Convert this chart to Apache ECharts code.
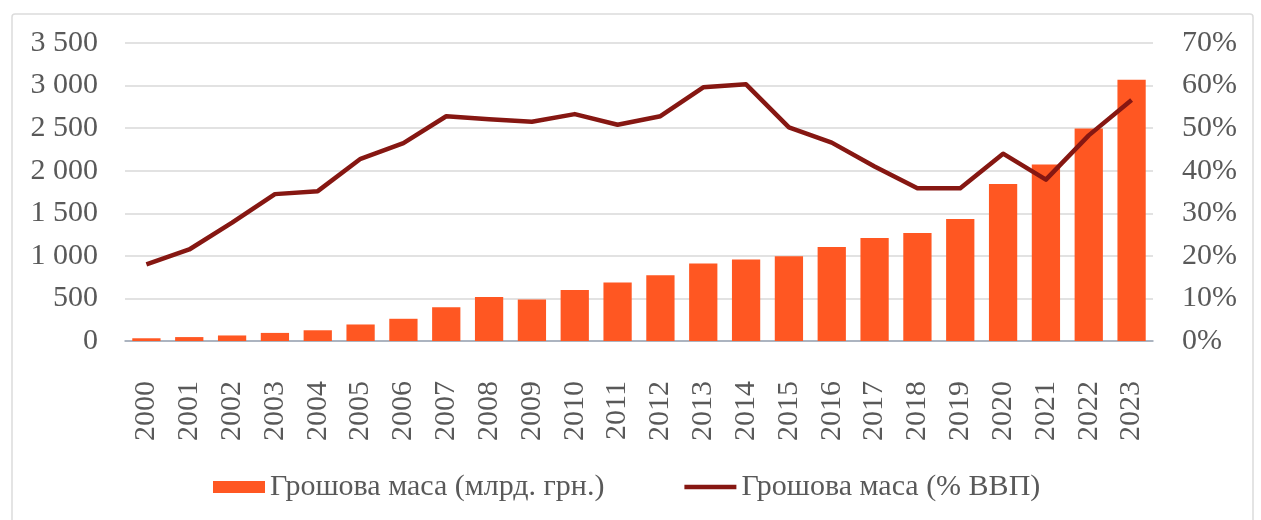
<!DOCTYPE html>
<html>
<head>
<meta charset="utf-8">
<script src="https://cdn.jsdelivr.net/npm/echarts@6/dist/echarts.min.js"></script>
<style>
  html, body { margin: 0; padding: 0; background: #ffffff; }
  #chart { width: 1261px; height: 520px; }
</style>
</head>
<body>
<div id="chart"></div>
<script>
// Money supply of Ukraine, 2000–2023
const years = ['2000','2001','2002','2003','2004','2005','2006','2007','2008','2009','2010','2011',
               '2012','2013','2014','2015','2016','2017','2018','2019','2020','2021','2022','2023'];
// Money supply, bn UAH
const moneyBn = [32, 46, 65, 95, 126, 194, 261, 396, 516, 487, 598, 686,
                 773, 909, 957, 994, 1103, 1209, 1269, 1434, 1845, 2072, 2496, 3068];
// Money supply, % of GDP
const moneyGdp = [18.0, 21.5, 27.8, 34.5, 35.2, 42.8, 46.5, 52.8, 52.1, 51.5, 53.3, 50.8,
                  52.8, 59.6, 60.3, 50.2, 46.6, 41.0, 35.9, 35.9, 44.0, 37.9, 48.3, 56.6];
const seriesNames = ['Грошова маса (млрд. грн.)', 'Грошова маса (% ВВП)'];

const FONT = '"Liberation Serif", "Times New Roman", serif';
const TEXT = '#595959';
const BAR_COLOR = '#FF5722';
const LINE_COLOR = '#861712';

const chart = echarts.init(document.getElementById('chart'), null, { renderer: 'canvas' });

function spaced(v) {
  return String(v).replace(/\B(?=(\d{3})+(?!\d))/g, ' ');
}

chart.setOption({
  animation: false,
  backgroundColor: '#ffffff',
  textStyle: { fontFamily: FONT },
  graphic: [{
    type: 'rect',
    shape: { x: 12, y: 14, width: 1241, height: 530, r: 3 },
    style: { fill: 'none', stroke: '#dcdcdc', lineWidth: 1.5 },
    z: -10
  }],
  grid: { left: 125, right: 108, top: 43, bottom: 179 },
  legend: {
    left: 208,
    top: 467,
    itemWidth: 52,
    itemHeight: 12,
    itemGap: 80,
    textStyle: { fontFamily: FONT, fontSize: 30, color: TEXT },
    data: [
      { name: seriesNames[0], icon: 'rect' },
      { name: seriesNames[1], icon: 'path://M0,0 L57,0 L57,5 L0,5 Z',
        itemStyle: { color: LINE_COLOR } }
    ]
  },
  xAxis: {
    type: 'category',
    data: years,
    axisLine: { lineStyle: { color: '#9aa5b5', width: 1.5 } },
    axisTick: { show: false },
    axisLabel: {
      rotate: 90,
      margin: 40,
      fontFamily: FONT,
      fontSize: 30,
      color: TEXT
    }
  },
  yAxis: [{
    type: 'value',
    min: 0,
    max: 3500,
    interval: 500,
    axisLine: { show: false },
    axisTick: { show: false },
    splitLine: { lineStyle: { color: '#d9d9d9', width: 1.5 } },
    axisLabel: {
      margin: 27,
      fontFamily: FONT,
      fontSize: 30,
      color: TEXT,
      formatter: v => spaced(v)
    }
  }, {
    type: 'value',
    min: 0,
    max: 70,
    interval: 10,
    position: 'right',
    axisLine: { show: false },
    axisTick: { show: false },
    splitLine: { show: false },
    axisLabel: {
      margin: 29,
      fontFamily: FONT,
      fontSize: 30,
      color: TEXT,
      formatter: '{value}%'
    }
  }],
  series: [{
    name: seriesNames[0],
    type: 'bar',
    yAxisIndex: 0,
    data: moneyBn,
    barCategoryGap: '34%',
    itemStyle: { color: BAR_COLOR }
  }, {
    name: seriesNames[1],
    type: 'line',
    yAxisIndex: 1,
    data: moneyGdp,
    symbol: 'none',
    lineStyle: { color: LINE_COLOR, width: 4.5, join: 'round' },
    itemStyle: { color: LINE_COLOR },
    z: 5
  }]
});
</script>
</body>
</html>
